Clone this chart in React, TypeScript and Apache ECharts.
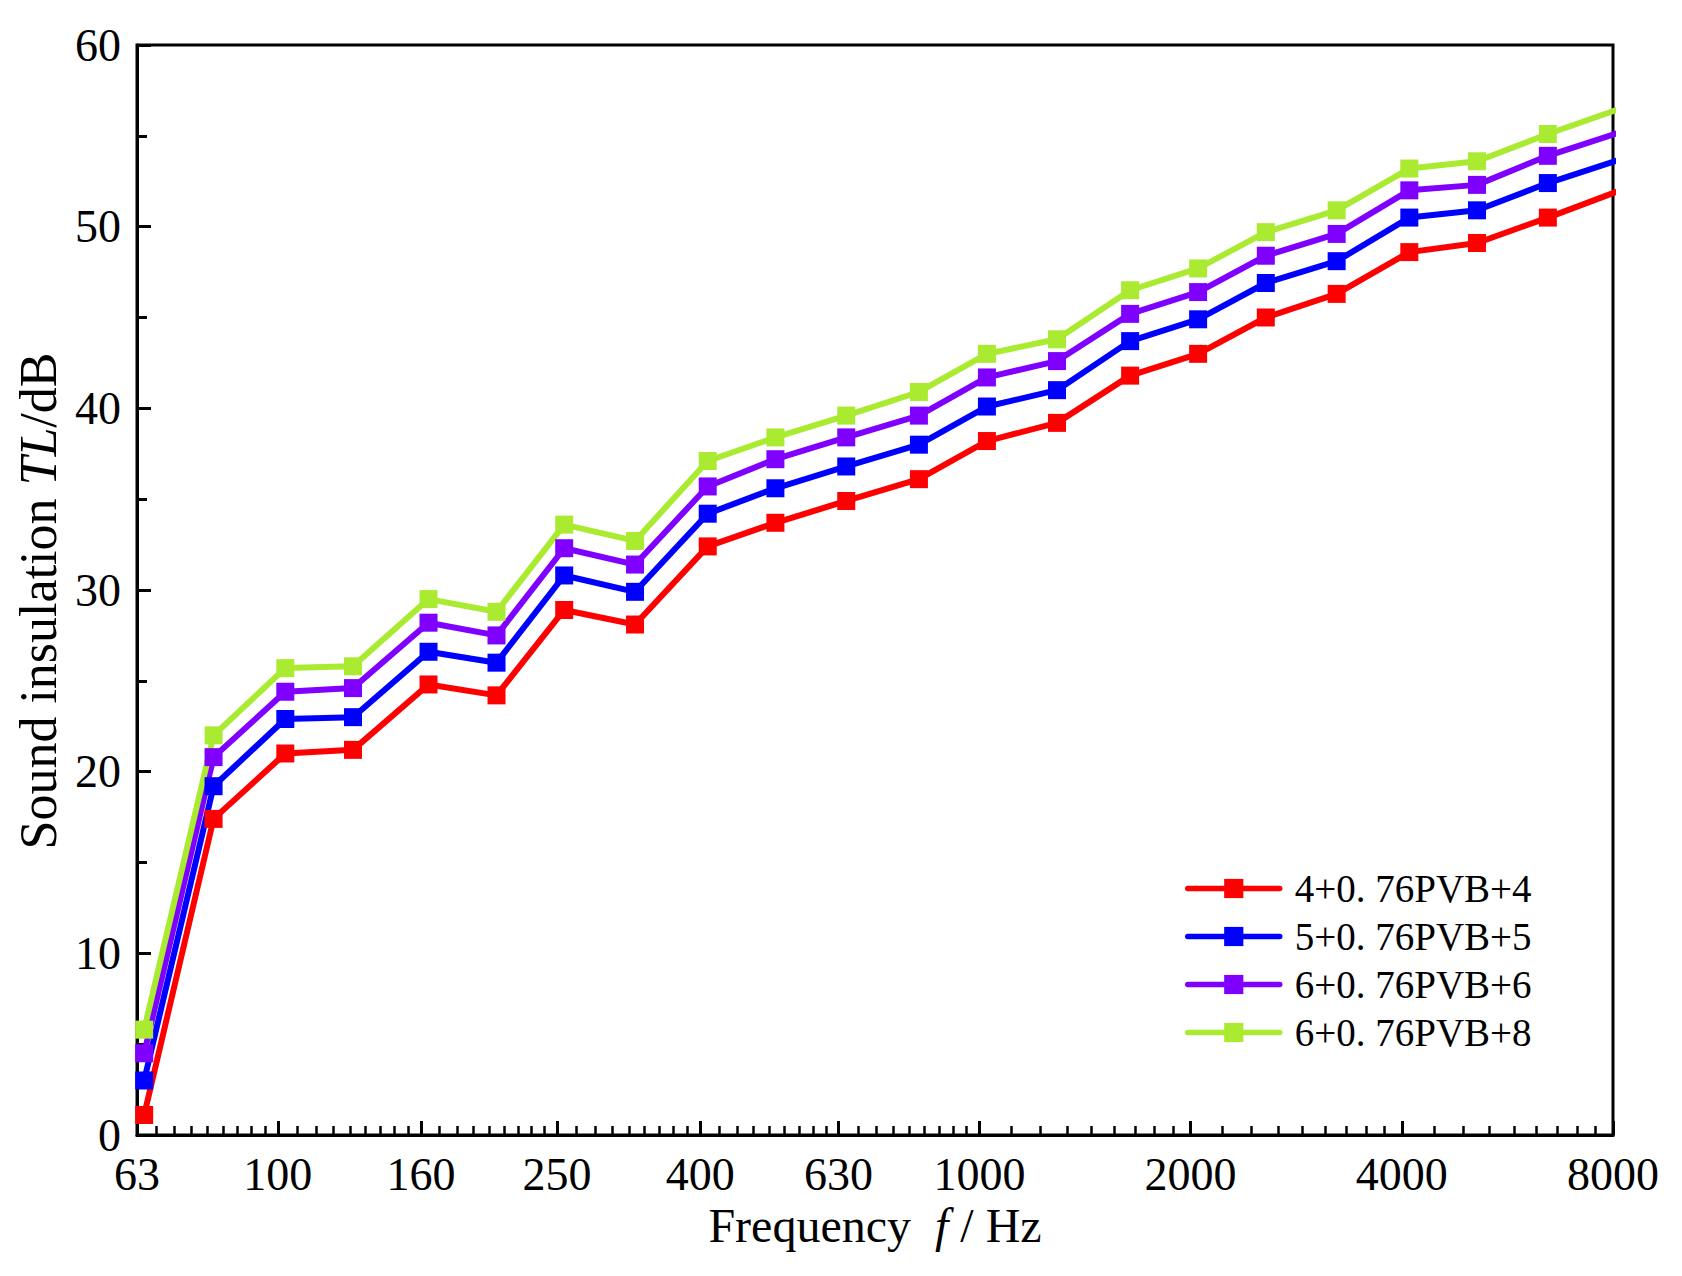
import React, { useEffect, useRef } from 'react';
import * as echarts from 'echarts';

// Frequencies (Hz) of the plotted points
const frequencies = [64.5, 81, 102.5, 128, 164, 205, 256, 323, 410, 512, 646, 820, 1025, 1290, 1640, 2050, 2560, 3230, 4100, 5120, 6460, 8200];

// Tick labels of the frequency axis
const freqTickLabels = [63, 100, 160, 250, 400, 630, 1000, 2000, 4000, 8000];

const seriesNames = ['4+0. 76PVB+4', '5+0. 76PVB+5', '6+0. 76PVB+6', '6+0. 76PVB+8'];
const seriesColors = ['#FF0000', '#0000FF', '#8000FF', '#AAEB32'];

const tl4_076_4 = [1.1, 17.4, 21.0, 21.2, 24.8, 24.2, 28.9, 28.1, 32.4, 33.7, 34.9, 36.1, 38.2, 39.2, 41.8, 43.0, 45.0, 46.3, 48.6, 49.1, 50.5, 52.0];
const tl5_076_5 = [3.0, 19.2, 22.9, 23.0, 26.6, 26.0, 30.8, 29.9, 34.2, 35.6, 36.8, 38.0, 40.1, 41.0, 43.7, 44.9, 46.9, 48.1, 50.5, 50.9, 52.4, 53.7];
const tl6_076_6 = [4.5, 20.8, 24.4, 24.6, 28.2, 27.5, 32.3, 31.4, 35.7, 37.2, 38.4, 39.6, 41.7, 42.6, 45.2, 46.4, 48.4, 49.6, 52.0, 52.3, 53.9, 55.2];
const tl6_076_8 = [5.8, 22.0, 25.7, 25.8, 29.5, 28.8, 33.6, 32.7, 37.1, 38.4, 39.6, 40.9, 43.0, 43.8, 46.5, 47.7, 49.7, 50.9, 53.2, 53.6, 55.1, 56.5];

const seriesValues = [tl4_076_4, tl5_076_5, tl6_076_6, tl6_076_8];

// minor ticks: 8 evenly spaced values between consecutive major ticks
const minorTicks: number[] = [];
for (let i = 0; i < freqTickLabels.length - 1; i++) {
  const a = freqTickLabels[i];
  const b = freqTickLabels[i + 1];
  for (let k = 1; k <= 8; k++) minorTicks.push(a + ((b - a) * k) / 9);
}

const FONT = '"Liberation Serif", "Times New Roman", serif';

export default function App() {
  const ref = useRef<HTMLDivElement>(null);
  useEffect(() => {
    if (!ref.current) return;
    const chart = echarts.init(ref.current, undefined, { renderer: 'svg' });
    const option: any = {
      animation: false,
      backgroundColor: '#ffffff',
      grid: {
        left: 137,
        right: 69,
        top: 45,
        bottom: 141,
        show: true,
        borderColor: '#000',
        borderWidth: 3,
        containLabel: false,
      },
      legend: {
        orient: 'vertical',
        left: 1185,
        top: 869,
        padding: 0,
        itemWidth: 92,
        itemHeight: 24,
        itemGap: 9,
        lineStyle: { width: 5.5, cap: 'round' },
        textStyle: { fontFamily: FONT, fontSize: 39, color: '#000', padding: [0, 0, 0, 10] },
        data: seriesNames,
      },
      xAxis: [
        {
          type: 'log',
          logBase: 10,
          min: 63,
          max: 8000,
          position: 'bottom',
          axisLine: { show: true, lineStyle: { color: '#000', width: 3 } },
          axisTick: { show: true, inside: true, length: 14, lineStyle: { color: '#000', width: 3 }, customValues: freqTickLabels },
          axisLabel: {
            customValues: freqTickLabels,
            formatter: (v: number) => String(Math.round(v)),
            fontFamily: FONT,
            fontSize: 46,
            color: '#000',
            margin: 16,
          },
          splitLine: { show: false },
          minorTick: { show: false },
          minorSplitLine: { show: false },
          name: 'Frequency  {i|f} / Hz',
          nameLocation: 'middle',
          nameGap: 66,
          nameTextStyle: {
            fontFamily: FONT,
            fontSize: 48,
            color: '#000',
            rich: { i: { fontFamily: FONT, fontSize: 48, fontStyle: 'italic', color: '#000' } },
          },
        },
        {
          type: 'log',
          logBase: 10,
          min: 63,
          max: 8000,
          position: 'bottom',
          axisLine: { show: false },
          axisTick: { show: true, inside: true, length: 9, lineStyle: { color: '#000', width: 2.5 }, customValues: minorTicks },
          axisLabel: { show: false },
          splitLine: { show: false },
        },
      ],
      yAxis: {
        type: 'value',
        min: 0,
        max: 60,
        interval: 10,
        axisLine: { show: true, lineStyle: { color: '#000', width: 3 } },
        axisTick: { show: true, inside: true, length: 14, lineStyle: { color: '#000', width: 3 } },
        minorTick: { show: true, splitNumber: 2, length: 10, lineStyle: { color: '#000', width: 3 } },
        axisLabel: { fontFamily: FONT, fontSize: 46, color: '#000', margin: 16 },
        splitLine: { show: false },
        name: 'Sound insulation {i|TL}/dB',
        nameLocation: 'middle',
        nameGap: 68,
        nameTextStyle: {
          fontFamily: FONT,
          fontSize: 52,
          color: '#000',
          padding: [0, 22, 0, 0],
          rich: { i: { fontFamily: FONT, fontSize: 52, fontStyle: 'italic', color: '#000' } },
        },
      },
      series: seriesNames.map((name, si) => ({
        name,
        type: 'line',
        xAxisIndex: 0,
        yAxisIndex: 0,
        data: frequencies.map((f, i) => [f, seriesValues[si][i]]),
        symbol: 'rect',
        symbolSize: 18,
        showAllSymbol: true,
        clip: true,
        color: seriesColors[si],
        itemStyle: { color: seriesColors[si] },
        lineStyle: { color: seriesColors[si], width: 6 },
        emphasis: { disabled: true },
      })),
    };
    chart.setOption(option);
    return () => chart.dispose();
  }, []);
  return (
    <div
      ref={ref}
      style={{ position: 'absolute', left: 0, top: 0, width: 1682, height: 1276, background: '#fff' }}
    />
  );
}
